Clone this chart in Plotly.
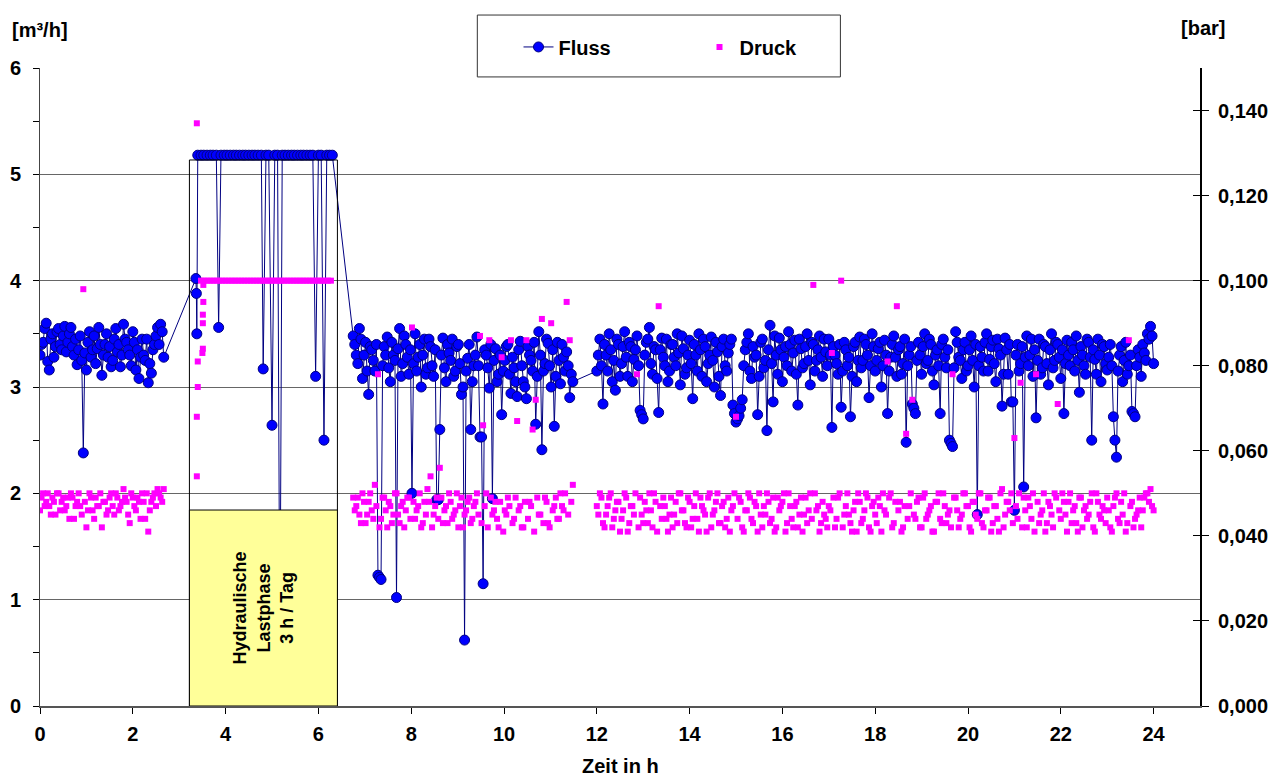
import numpy as np
import plotly.graph_objects as go

# ---------------- DATA ----------------
# Fluss [m3/h] and Druck [bar]; main samples every 4 min, plus interleaved samples (+2 min)
segA_t = np.arange(41) / 15.0
segA_fluss = [3.30, 3.42, 3.60, 3.16, 3.50, 3.38, 3.55, 3.35, 3.57, 3.42,
              3.56, 3.30, 3.21, 3.48, 2.38, 3.16, 3.52, 3.35, 3.22, 3.56,
              3.11, 3.40, 3.28, 3.19, 3.45, 3.33, 3.19, 3.59, 3.42, 3.30,
              3.52, 3.16, 3.08, 3.45, 3.25, 3.04, 3.13, 3.40, 3.56, 3.59,
              3.28]
segA_druck = [0.046, 0.050, 0.048, 0.047, 0.049, 0.045, 0.050, 0.048, 0.046, 0.049,
              0.050, 0.044, 0.048, 0.047, 0.098, 0.042, 0.050, 0.046, 0.049, 0.047,
              0.042, 0.048, 0.046, 0.050, 0.045, 0.049, 0.047, 0.051, 0.048, 0.043,
              0.049, 0.046, 0.048, 0.050, 0.044, 0.041, 0.048, 0.050, 0.051, 0.049,
              0.051]
segA2_t = np.arange(40) / 15.0 + 1 / 30.0
segA2_fluss = [3.40, 3.55, 3.24, 3.45, 3.28, 3.52, 3.40, 3.48, 3.33, 3.50,
               3.38, 3.45, 3.35, 3.25, 3.32, 3.42, 3.28, 3.48, 3.36, 3.40,
               3.30, 3.50, 3.38, 3.25, 3.55, 3.40, 3.30, 3.45, 3.35, 3.20,
               3.42, 3.35, 3.28, 3.30, 3.45, 3.22, 3.35, 3.48, 3.40, 3.52]
segA2_druck = [0.049, 0.047, 0.050, 0.045, 0.048, 0.050, 0.046, 0.049, 0.047, 0.044,
               0.049, 0.047, 0.050, 0.045, 0.048, 0.046, 0.049, 0.044, 0.047, 0.050,
               0.048, 0.045, 0.049, 0.047, 0.050, 0.046, 0.048, 0.049, 0.045, 0.050,
               0.047, 0.049, 0.044, 0.048, 0.050, 0.046, 0.049, 0.047, 0.050, 0.048]

load_t = [3.36, 3.37, 3.38, 3.40, 3.47, 3.53, 3.60, 3.67, 3.73, 3.80,
          3.85, 3.90, 3.97, 4.03, 4.10, 4.17, 4.23, 4.30, 4.37, 4.43,
          4.50, 4.57, 4.63, 4.70, 4.77, 4.81, 4.87, 4.93, 5.00, 5.06,
          5.12, 5.17, 5.22, 5.28, 5.35, 5.42, 5.48, 5.55, 5.62, 5.68,
          5.75, 5.82, 5.88, 5.94, 6.00, 6.06, 6.12, 6.18, 6.24, 6.30]
load_fluss = [4.02, 3.88, 3.50, 5.18, 5.18, 5.18, 5.18, 5.18, 5.18, 5.18,
              3.56, 5.18, 5.18, 5.18, 5.18, 5.18, 5.18, 5.18, 5.18, 5.18,
              5.18, 5.18, 5.18, 5.18, 5.18, 3.17, 5.18, 5.18, 2.64, 5.18,
              5.18, 0.40, 5.18, 5.18, 5.18, 5.18, 5.18, 5.18, 5.18, 5.18,
              5.18, 5.18, 5.18, 3.10, 5.18, 5.18, 2.50, 5.18, 5.18, 5.18]

load_druck_t = [3.38, 3.38, 3.38, 3.40, 3.40, 3.50, 3.51, 3.51, 3.51, 3.52, 3.52]
load_druck = [0.137, 0.054, 0.068, 0.075, 0.081, 0.083, 0.084, 0.090, 0.092, 0.095, 0.099]
band_t = 3.47 + np.arange(43) / 15.0
band_druck = [0.100, 0.100, 0.100, 0.100, 0.100, 0.100, 0.100, 0.100, 0.100, 0.100,
              0.100, 0.100, 0.100, 0.100, 0.100, 0.100, 0.100, 0.100, 0.100, 0.100,
              0.100, 0.100, 0.100, 0.100, 0.100, 0.100, 0.100, 0.100, 0.100, 0.100,
              0.100, 0.100, 0.100, 0.100, 0.100, 0.100, 0.100, 0.100, 0.100, 0.100,
              0.100, 0.100, 0.100]

segB_t = 6.75 + np.arange(72) / 15.0
segB_fluss = [3.48, 3.30, 3.55, 3.08, 3.42, 2.93, 3.35, 3.15, 1.23, 1.19,
              3.38, 3.47, 3.05, 3.30, 1.02, 3.55, 3.22, 3.40, 3.12, 2.00,
              3.50, 3.28, 3.00, 3.45, 3.18, 3.38, 3.10, 1.94, 2.60, 3.46,
              3.05, 3.32, 3.45, 3.15, 3.40, 2.93, 0.62, 3.27, 2.60, 3.20,
              3.47, 2.53, 1.15, 3.30, 2.99, 1.95, 3.36, 3.12, 2.74, 3.25,
              3.40, 2.94, 3.18, 2.91, 3.43, 3.05, 2.89, 3.30, 3.15, 2.65,
              3.52, 2.41, 3.22, 3.41, 3.00, 2.63, 3.42, 3.03, 3.28, 3.33,
              2.90, 3.05]
segB_druck = [0.049, 0.047, 0.045, 0.050, 0.043, 0.048, 0.046, 0.052, 0.078, 0.044,
              0.049, 0.042, 0.047, 0.045, 0.050, 0.043, 0.048, 0.046, 0.049, 0.089,
              0.044, 0.047, 0.042, 0.048, 0.051, 0.054, 0.045, 0.049, 0.056, 0.043,
              0.047, 0.050, 0.044, 0.046, 0.042, 0.049, 0.045, 0.048, 0.043, 0.047,
              0.050, 0.087, 0.066, 0.050, 0.086, 0.045, 0.048, 0.042, 0.082, 0.046,
              0.049, 0.086, 0.044, 0.067, 0.047, 0.042, 0.086, 0.048, 0.065, 0.072,
              0.045, 0.091, 0.049, 0.043, 0.090, 0.047, 0.044, 0.050, 0.046, 0.095,
              0.086, 0.052]
segB2_t = 6.75 + np.arange(71) / 15.0 + 1 / 30.0
segB2_fluss = [3.40, 3.22, 3.45, 3.30, 3.15, 3.38, 3.25, 3.40, 1.21, 3.20,
               3.30, 3.18, 3.42, 3.25, 3.36, 3.10, 3.48, 3.28, 3.35, 3.22,
               3.15, 3.40, 3.30, 3.12, 3.45, 3.20, 3.35, 1.94, 3.30, 3.18,
               3.40, 3.25, 3.10, 3.38, 3.22, 3.00, 3.15, 3.40, 3.05, 3.30,
               3.20, 2.53, 3.35, 3.18, 3.40, 3.25, 3.05, 3.30, 3.15, 3.38,
               3.12, 3.28, 3.05, 3.35, 3.20, 3.00, 3.38, 3.25, 3.42, 3.10,
               3.30, 3.15, 3.45, 3.20, 3.35, 3.10, 3.25, 3.40, 3.15, 3.20,
               3.12]
segB2_druck = [0.046, 0.049, 0.043, 0.048, 0.045, 0.050, 0.044, 0.047, 0.042, 0.049,
               0.046, 0.048, 0.043, 0.050, 0.045, 0.047, 0.042, 0.049, 0.044, 0.048,
               0.046, 0.050, 0.043, 0.045, 0.048, 0.042, 0.047, 0.044, 0.049, 0.046,
               0.043, 0.048, 0.045, 0.050, 0.047, 0.042, 0.046, 0.049, 0.044, 0.048,
               0.045, 0.043, 0.047, 0.042, 0.049, 0.046, 0.044, 0.048, 0.041, 0.045,
               0.047, 0.043, 0.049, 0.046, 0.042, 0.048, 0.044, 0.047, 0.041, 0.049,
               0.045, 0.043, 0.048, 0.042, 0.046, 0.049, 0.044, 0.047, 0.050, 0.045,
               0.048]

segC_t = 12.0 + np.arange(181) / 15.0
segC_fluss = [
    3.15, 3.45, 2.84, 3.30, 3.50, 3.05, 2.97, 3.40, 3.22, 3.52, 3.10, 3.38, 3.26, 3.48, 2.78,   # 12 h
    2.70, 3.42, 3.56, 3.12, 3.35, 2.76, 3.46, 3.20, 3.05, 3.40, 3.28, 3.50, 3.02, 3.36, 3.18,   # 13 h
    3.44, 2.89, 3.30, 3.50, 3.10, 3.38, 3.22, 3.47, 3.00, 3.33, 2.92, 3.45, 3.15, 3.40, 2.83,   # 14 h
    2.67, 2.73, 2.88, 3.35, 3.50, 3.08, 3.28, 2.74, 3.42, 3.18, 2.59, 3.58, 2.86, 3.30, 3.46,   # 15 h
    3.05, 3.38, 3.52, 3.15, 3.44, 2.83, 3.36, 3.22, 3.50, 3.02, 3.40, 3.25, 3.48, 3.10, 3.33,   # 16 h
    3.45, 2.62, 3.30, 3.12, 2.81, 3.42, 3.20, 2.72, 3.38, 3.05, 3.47, 3.25, 3.40, 2.90, 3.50,   # 17 h
    3.15, 3.36, 3.00, 3.44, 2.75, 3.28, 3.48, 3.10, 3.38, 3.22, 2.48, 3.30, 2.84, 2.75, 3.42,   # 18 h
    3.12, 3.50, 3.25, 3.40, 3.02, 3.35, 2.75, 3.45, 3.18, 2.50, 2.44, 3.52, 3.28, 3.08, 3.42,   # 19 h
    3.20, 3.48, 3.00, 1.80, 3.38, 3.15, 3.50, 3.26, 3.44, 3.05, 3.36, 2.82, 3.46, 3.12, 2.86,   # 20 h
    1.84, 3.40, 3.22, 2.06, 3.48, 3.30, 3.10, 2.71, 3.45, 3.18, 3.38, 3.02, 3.50, 3.25, 3.40,   # 21 h
    3.08, 2.75, 3.44, 3.20, 3.35, 3.48, 2.95, 3.30, 3.12, 3.42, 2.50, 3.26, 3.45, 3.05, 3.38,   # 22 h
    3.16, 3.40, 2.72, 2.34, 3.30, 3.05, 3.42, 3.20, 2.77, 2.72, 3.35, 3.10, 3.32, 3.50, 3.57,   # 23 h
    3.22]
segC_druck = [
    0.047, 0.050, 0.043, 0.045, 0.049, 0.042, 0.046, 0.048, 0.044, 0.050, 0.041, 0.047, 0.045, 0.078, 0.049,
    0.043, 0.046, 0.050, 0.042, 0.048, 0.094, 0.044, 0.047, 0.041, 0.049, 0.045, 0.043, 0.050, 0.046, 0.042,
    0.048, 0.044, 0.050, 0.041, 0.047, 0.045, 0.049, 0.042, 0.046, 0.050, 0.043, 0.048, 0.044, 0.041, 0.047,
    0.068, 0.049, 0.042, 0.046, 0.050, 0.044, 0.048, 0.041, 0.045, 0.047, 0.050, 0.043, 0.049, 0.042, 0.046,
    0.048, 0.041, 0.050, 0.044, 0.047, 0.042, 0.049, 0.045, 0.043, 0.050, 0.099, 0.046, 0.041, 0.048, 0.044,
    0.047, 0.083, 0.042, 0.049, 0.100, 0.045, 0.050, 0.043, 0.046, 0.041, 0.048, 0.044, 0.050, 0.042, 0.047,
    0.045, 0.049, 0.041, 0.046, 0.081, 0.050, 0.043, 0.094, 0.048, 0.042, 0.064, 0.047, 0.072, 0.044, 0.049,
    0.042, 0.050, 0.045, 0.047, 0.041, 0.048, 0.044, 0.050, 0.043, 0.046, 0.078, 0.049, 0.042, 0.045, 0.050,
    0.047, 0.041, 0.048, 0.044, 0.050, 0.042, 0.046, 0.049, 0.043, 0.047, 0.041, 0.051, 0.045, 0.048, 0.050,
    0.063, 0.044, 0.076, 0.049, 0.042, 0.047, 0.050, 0.078, 0.043, 0.046, 0.041, 0.048, 0.045, 0.050, 0.071,
    0.044, 0.048, 0.041, 0.050, 0.046, 0.043, 0.049, 0.042, 0.047, 0.045, 0.050, 0.041, 0.048, 0.044, 0.046,
    0.049, 0.042, 0.047, 0.050, 0.043, 0.045, 0.041, 0.086, 0.048, 0.044, 0.046, 0.042, 0.049, 0.050, 0.051,
    0.046]
segC2_t = 12.0 + np.arange(180) / 15.0 + 1 / 30.0
segC2_fluss = [
    3.30, 3.20, 3.40, 3.15, 3.35, 3.25, 3.45, 3.10, 3.38, 3.28, 3.42, 3.05, 3.35, 3.20, 2.74,
    3.30, 3.45, 3.22, 3.38, 3.08, 3.35, 3.28, 3.45, 3.15, 3.40, 3.20, 3.32, 3.48, 3.12, 3.30,
    3.22, 3.40, 3.15, 3.35, 3.45, 3.05, 3.30, 3.25, 3.42, 3.10, 3.38, 3.20, 3.32, 3.45, 2.75,
    2.70, 2.80, 3.20, 3.42, 3.15, 3.38, 3.30, 3.10, 3.45, 3.25, 3.35, 3.22, 3.48, 3.12, 3.35,
    3.28, 3.20, 3.40, 3.32, 3.12, 3.45, 3.18, 3.38, 3.25, 3.42, 3.15, 3.35, 3.28, 3.45, 3.20,
    3.30, 3.38, 3.22, 3.40, 3.15, 3.35, 3.28, 3.10, 3.42, 3.25, 3.18, 3.45, 3.30, 3.20, 3.38,
    3.25, 3.42, 3.20, 3.30, 3.15, 3.40, 3.28, 3.35, 3.12, 3.45, 3.20, 3.38, 2.80, 3.25, 3.30,
    3.38, 3.22, 3.45, 3.15, 3.30, 3.20, 3.40, 3.28, 3.35, 2.47, 3.18, 3.42, 3.25, 3.35, 3.15,
    3.35, 3.25, 3.40, 3.20, 3.28, 3.42, 3.15, 3.38, 3.22, 3.45, 3.30, 3.12, 3.35, 3.40, 2.86,
    3.30, 3.15, 3.38, 3.28, 3.20, 3.45, 3.35, 3.25, 3.12, 3.40, 3.22, 3.35, 3.18, 3.42, 3.28,
    3.35, 3.22, 3.30, 3.42, 3.15, 3.25, 3.38, 3.20, 3.45, 3.28, 3.35, 3.12, 3.30, 3.40, 3.22,
    3.28, 3.20, 2.50, 3.15, 3.38, 3.25, 3.12, 3.30, 2.75, 3.20, 3.28, 3.40, 3.25, 3.45, 3.48]
segC2_druck = [
    0.045, 0.049, 0.042, 0.047, 0.050, 0.044, 0.048, 0.041, 0.046, 0.049, 0.043, 0.047, 0.050, 0.042, 0.045,
    0.048, 0.043, 0.046, 0.050, 0.041, 0.047, 0.049, 0.044, 0.045, 0.042, 0.048, 0.050, 0.046, 0.043, 0.049,
    0.042, 0.047, 0.044, 0.049, 0.046, 0.041, 0.050, 0.045, 0.048, 0.043, 0.047, 0.042, 0.049, 0.046, 0.050,
    0.044, 0.048, 0.041, 0.046, 0.049, 0.043, 0.047, 0.050, 0.042, 0.045, 0.048, 0.044, 0.041, 0.049, 0.047,
    0.050, 0.043, 0.047, 0.042, 0.048, 0.045, 0.041, 0.049, 0.046, 0.044, 0.050, 0.047, 0.043, 0.045, 0.042,
    0.046, 0.049, 0.044, 0.050, 0.042, 0.047, 0.045, 0.041, 0.048, 0.050, 0.043, 0.046, 0.049, 0.041, 0.048,
    0.043, 0.047, 0.050, 0.045, 0.049, 0.042, 0.048, 0.046, 0.041, 0.047, 0.044, 0.050, 0.045, 0.048, 0.042,
    0.049, 0.044, 0.046, 0.041, 0.048, 0.050, 0.043, 0.047, 0.045, 0.042, 0.049, 0.046, 0.044, 0.050, 0.047,
    0.042, 0.048, 0.045, 0.050, 0.043, 0.046, 0.049, 0.041, 0.047, 0.044, 0.050, 0.042, 0.048, 0.046, 0.043,
    0.047, 0.050, 0.042, 0.046, 0.049, 0.044, 0.041, 0.048, 0.045, 0.050, 0.043, 0.047, 0.042, 0.049, 0.046,
    0.050, 0.045, 0.048, 0.043, 0.047, 0.041, 0.049, 0.046, 0.044, 0.048, 0.042, 0.050, 0.045, 0.047, 0.043,
    0.046, 0.041, 0.049, 0.044, 0.048, 0.050, 0.043, 0.047, 0.042, 0.045, 0.049, 0.046, 0.050, 0.048, 0.047]

x_ticks = [0, 2, 4, 6, 8, 10, 12, 14, 16, 18, 20, 22, 24]
y2_ticks = [0.0, 0.02, 0.04, 0.06, 0.08, 0.10, 0.12, 0.14]
phase_start, phase_end, phase_top, box_top = 3.22, 6.41, 5.135, 1.843

# ---------------- FIGURE ----------------
FONT = "Arial, Liberation Sans, sans-serif"
fl_t = np.concatenate([segA_t, segA2_t, load_t, segB_t, segB2_t, segC_t, segC2_t])
fl_v = np.array(segA_fluss + segA2_fluss + load_fluss + segB_fluss + segB2_fluss
                + segC_fluss + segC2_fluss)
order = np.argsort(fl_t, kind="stable")
fluss_t, fluss = fl_t[order], fl_v[order]

druck_t = np.concatenate([segA_t, segA2_t, load_druck_t, band_t, segB_t, segB2_t, segC_t, segC2_t])
druck = (segA_druck + segA2_druck + load_druck + band_druck + segB_druck + segB2_druck
         + segC_druck + segC2_druck)

fig = go.Figure()
fig.add_trace(go.Scatter(
    x=fluss_t, y=fluss, name="Fluss", mode="lines+markers",
    line=dict(color="#000080", width=1),
    marker=dict(symbol="circle", size=10, color="#0000FF",
                line=dict(color="#000080", width=1)),
    yaxis="y"))
fig.add_trace(go.Scatter(
    x=druck_t, y=druck, name="Druck", mode="markers",
    marker=dict(symbol="square", size=6, color="#FF00FF", line=dict(width=0)),
    yaxis="y2"))
fig.add_trace(go.Scatter(x=[], y=[], yaxis="y3", showlegend=False, hoverinfo="skip"))

tickfont = dict(family=FONT, size=20, color="black", weight="bold")

fig.update_layout(
    width=1270, height=778,
    margin=dict(l=40, r=70, t=68, b=72, autoexpand=False),
    paper_bgcolor="white", plot_bgcolor="white",
    separators=",.",
    font=dict(family=FONT, size=20, color="black"),
    showlegend=True,
    legend=dict(orientation="h", x=0.4125, xanchor="left", y=1.033, yanchor="middle",
                bgcolor="rgba(0,0,0,0)", borderwidth=0,
                font=dict(family=FONT, size=20, color="black", weight="bold"),
                entrywidth=136, entrywidthmode="pixels"),
    xaxis=dict(range=[0, 25], tickvals=x_ticks, ticks="outside", ticklen=6,
               tickcolor="black", showline=True, linecolor="#555555", linewidth=2,
               showgrid=False, zeroline=False, tickfont=tickfont,
               ticklabelstandoff=3, automargin=False),
    yaxis=dict(range=[0, 6], dtick=1, tick0=0, ticks="outside", ticklen=6,
               tickcolor="black", showline=True, linecolor="#444444", linewidth=1,
               showgrid=True, gridcolor="#666666", gridwidth=1, zeroline=False,
               tickfont=tickfont, ticklabelstandoff=8, automargin=False,
               minor=dict(dtick=0.5, tick0=0, ticks="outside", ticklen=6,
                          tickcolor="black", showgrid=False)),
    yaxis2=dict(range=[0, 0.15], overlaying="y", side="right", anchor="x",
                tickvals=y2_ticks, tickformat=".3f", ticks="outside", ticklen=7,
                tickcolor="black", showline=True, linecolor="black", linewidth=2,
                showgrid=False, zeroline=False, tickfont=tickfont,
                ticklabelstandoff=5, automargin=False),
    yaxis3=dict(range=[0, 0.15], overlaying="y", side="right", anchor="x",
                tickvals=y2_ticks, ticks="inside", ticklen=7, tickcolor="black",
                showticklabels=False, showline=False, showgrid=False, zeroline=False,
                automargin=False),
)

fig.add_shape(type="rect", xref="x", yref="y", x0=phase_start, x1=phase_end,
              y0=0, y1=phase_top, line=dict(color="black", width=1),
              fillcolor="rgba(0,0,0,0)", layer="above")
fig.add_shape(type="rect", xref="x", yref="y", x0=phase_start, x1=phase_end,
              y0=0, y1=box_top, line=dict(color="black", width=1),
              fillcolor="#FFFF99", layer="above")
fig.add_shape(type="rect", xref="paper", yref="paper", x0=0.377, x1=0.690,
              y0=0.986, y1=1.083, line=dict(color="#333333", width=1),
              fillcolor="white", layer="above")

fig.add_annotation(x=(phase_start + phase_end) / 2, y=box_top / 2, xref="x", yref="y",
                   text="Hydraulische<br>Lastphase<br>3 h / Tag", textangle=-90,
                   showarrow=False,
                   font=dict(family=FONT, size=18, color="black", weight="bold"))
fig.add_annotation(x=0.0, y=1.06, xref="paper", yref="paper", text="[m³/h]",
                   showarrow=False, xanchor="center", yanchor="middle",
                   font=dict(family=FONT, size=20, color="black", weight="bold"))
fig.add_annotation(x=1.0026, y=1.063, xref="paper", yref="paper", text="[bar]",
                   showarrow=False, xanchor="center", yanchor="middle",
                   font=dict(family=FONT, size=20, color="black", weight="bold"))
fig.add_annotation(x=0.5, y=-0.094, xref="paper", yref="paper", text="Zeit in h",
                   showarrow=False, xanchor="center", yanchor="middle",
                   font=dict(family=FONT, size=20, color="black", weight="bold"))

fig.write_html("out.html")
